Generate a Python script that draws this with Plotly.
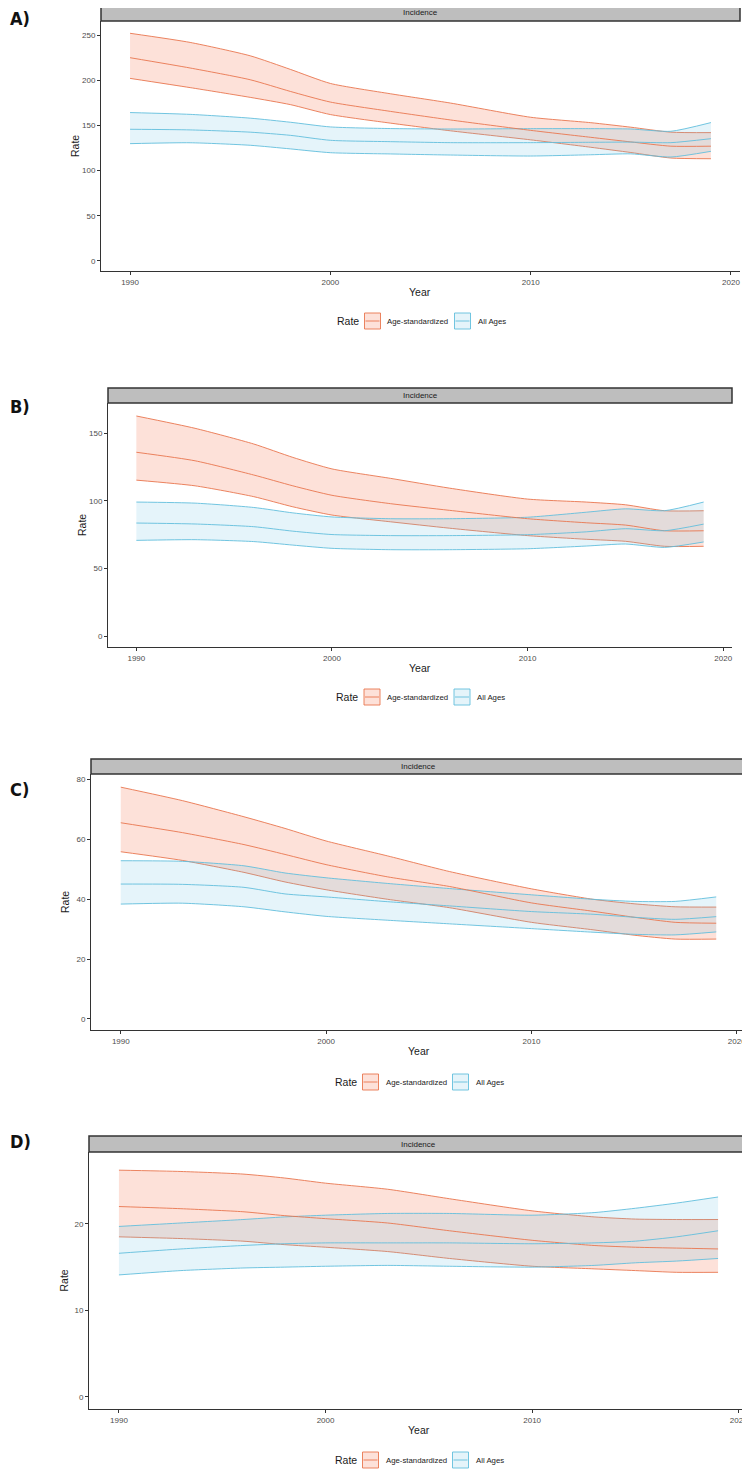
import plotly.graph_objects as go

# years (key points along each smooth line)
years = [1990, 1993, 1996, 1998, 2000, 2003, 2006, 2010, 2013, 2015, 2017, 2019]

# A) incidence rates
a_asr_hi = [251.9, 241.8, 227.0, 212.0, 196.4, 185.0, 174.7, 159.0, 153.0, 148.0, 142.5, 142.0]
a_asr = [224.9, 213.5, 200.5, 187.6, 175.8, 165.5, 156.0, 144.5, 136.8, 131.7, 127.0, 127.0]
a_asr_lo = [202.0, 191.8, 181.0, 173.0, 162.0, 152.5, 144.0, 134.0, 125.8, 120.0, 113.9, 113.1]
a_all_hi = [164.2, 162.2, 158.0, 153.5, 148.3, 146.5, 146.0, 146.4, 146.4, 146.0, 143.5, 153.1]
a_all = [145.7, 145.0, 142.5, 139.0, 133.5, 132.0, 130.9, 130.9, 131.3, 131.5, 130.9, 135.3]
a_all_lo = [129.8, 130.8, 128.0, 124.0, 119.8, 118.4, 117.2, 116.1, 117.5, 118.5, 115.0, 121.3]

# B)
b_asr_hi = [162.6, 153.5, 141.9, 132.0, 123.5, 116.5, 109.3, 101.2, 99.0, 97.0, 92.6, 92.6]
b_asr = [135.8, 129.5, 119.0, 111.0, 104.0, 97.8, 92.9, 86.7, 83.7, 82.0, 77.8, 77.8]
b_asr_lo = [115.2, 111.0, 103.0, 95.5, 89.4, 84.4, 79.7, 74.2, 71.5, 70.0, 66.3, 66.3]
b_all_hi = [99.0, 98.2, 95.0, 91.0, 88.0, 86.7, 86.7, 87.8, 91.5, 94.0, 92.6, 99.0]
b_all = [83.5, 82.8, 80.8, 77.5, 75.0, 74.2, 74.2, 74.9, 77.0, 79.3, 77.8, 82.7]
b_all_lo = [70.7, 71.2, 69.8, 67.2, 64.8, 63.8, 63.8, 64.5, 66.5, 68.0, 65.5, 69.5]

# C)
c_asr_hi = [77.5, 73.0, 67.6, 63.7, 59.5, 54.5, 49.3, 43.5, 40.0, 38.5, 37.5, 37.4]
c_asr = [65.6, 62.3, 58.3, 55.0, 51.6, 47.5, 44.3, 38.8, 36.0, 34.0, 32.3, 32.0]
c_asr_lo = [55.9, 53.0, 49.0, 45.8, 43.2, 40.0, 37.2, 32.3, 29.8, 28.0, 26.7, 26.7]
c_all_hi = [52.9, 52.7, 51.2, 48.8, 47.2, 45.3, 43.6, 41.5, 40.0, 39.3, 39.3, 40.8]
c_all = [45.1, 45.0, 44.0, 41.8, 40.8, 39.2, 37.8, 35.9, 35.0, 34.0, 33.3, 34.2]
c_all_lo = [38.4, 38.7, 37.5, 35.8, 34.3, 33.0, 31.8, 30.2, 29.0, 28.3, 28.1, 29.1]

# D)
d_asr_hi = [26.2, 26.05, 25.75, 25.3, 24.7, 24.0, 22.9, 21.5, 20.8, 20.55, 20.5, 20.5]
d_asr = [22.0, 21.75, 21.4, 20.95, 20.6, 20.1, 19.2, 18.1, 17.5, 17.3, 17.2, 17.1]
d_asr_lo = [18.5, 18.3, 18.0, 17.6, 17.3, 16.8, 16.0, 15.1, 14.8, 14.6, 14.4, 14.4]
d_all_hi = [19.7, 20.1, 20.5, 20.8, 21.0, 21.2, 21.2, 21.0, 21.3, 21.8, 22.4, 23.1]
d_all = [16.6, 17.1, 17.5, 17.7, 17.8, 17.8, 17.8, 17.7, 17.8, 18.0, 18.5, 19.2]
d_all_lo = [14.1, 14.6, 14.9, 15.0, 15.1, 15.2, 15.1, 15.0, 15.2, 15.5, 15.7, 16.0]

x_ticks = [1990, 2000, 2010, 2020]
series_names = ["Age-standardized", "All Ages"]

# the page body has an 8px margin, so the figure is shrunk by that much
PAGE_W, PAGE_H, OFF = 750, 1469, 8
W, H = PAGE_W - OFF, PAGE_H - OFF
ORANGE = "#E9764F"
BLUE = "#62BEDC"
ORANGE_FILL = "rgba(248,118,80,0.22)"
BLUE_FILL = "rgba(100,190,225,0.17)"
FONT = "Liberation Sans, Arial, sans-serif"
TXT = "#1a1a1a"


def fx(p):
    return min(1.0, max(0.0, (p - OFF) / W))


def fy(p):
    return 1 - (p - OFF) / H


# pixel boxes on the page: (left, right, top, bottom), strip top, y range, y ticks, tag y, legend y
panels = [
    dict(tag="A)", box=(101, 740, 21, 271), strip=5, yrange=[-11.1, 265.5],
         yticks=[0, 50, 100, 150, 200, 250], tag_y=18, leg_y=321,
         data=(a_asr_hi, a_asr, a_asr_lo, a_all_hi, a_all, a_all_lo)),
    dict(tag="B)", box=(108, 732, 403, 647), strip=388, yrange=[-8.1, 172.2],
         yticks=[0, 50, 100, 150], tag_y=406, leg_y=697,
         data=(b_asr_hi, b_asr, b_asr_lo, b_all_hi, b_all, b_all_lo)),
    dict(tag="C)", box=(91, 746, 774, 1030), strip=759, yrange=[-3.7, 81.9],
         yticks=[0, 20, 40, 60, 80], tag_y=789, leg_y=1082,
         data=(c_asr_hi, c_asr, c_asr_lo, c_all_hi, c_all, c_all_lo)),
    dict(tag="D)", box=(89, 748, 1152, 1409), strip=1136, yrange=[-1.39, 28.3],
         yticks=[0, 10, 20], tag_y=1141, leg_y=1460,
         data=(d_asr_hi, d_asr, d_asr_lo, d_all_hi, d_all, d_all_lo)),
]

fig = go.Figure()
shapes = []
annotations = []
layout = {}


def note(text, x, y, size, xanchor="center", yanchor="middle", angle=0, family=FONT, color=TXT):
    annotations.append(dict(text=text, x=x, y=y, xref="paper", yref="paper",
                            xanchor=xanchor, yanchor=yanchor, textangle=angle,
                            showarrow=False, font=dict(family=family, size=size, color=color)))


for i, p in enumerate(panels):
    n = "" if i == 0 else str(i + 1)
    xa, ya = "x" + n, "y" + n
    left, right, top, bottom = p["box"]
    hi1, mid1, lo1, hi2, mid2, lo2 = p["data"]

    # ribbons with outlines, then the central lines
    for hi, lo, col, fill in [(hi1, lo1, ORANGE, ORANGE_FILL), (hi2, lo2, BLUE, BLUE_FILL)]:
        fig.add_trace(go.Scatter(x=years, y=hi, mode="lines", xaxis=xa, yaxis=ya,
                                 line=dict(color=col, width=0.9, shape="spline", smoothing=0.6),
                                 showlegend=False, hoverinfo="skip"))
        fig.add_trace(go.Scatter(x=years, y=lo, mode="lines", xaxis=xa, yaxis=ya,
                                 fill="tonexty", fillcolor=fill,
                                 line=dict(color=col, width=0.9, shape="spline", smoothing=0.6),
                                 showlegend=False, hoverinfo="skip"))
    for mid, col in [(mid1, ORANGE), (mid2, BLUE)]:
        fig.add_trace(go.Scatter(x=years, y=mid, mode="lines", xaxis=xa, yaxis=ya,
                                 line=dict(color=col, width=0.9, shape="spline", smoothing=0.6),
                                 showlegend=False))

    axis_common = dict(showline=True, linecolor="#333333", linewidth=1, ticks="outside",
                       ticklen=3, tickwidth=1, tickcolor="#333333", showgrid=False,
                       zeroline=False, tickfont=dict(family=FONT, size=8, color="#4D4D4D"))
    layout["xaxis" + n] = dict(axis_common, domain=[fx(left), fx(right)], anchor=ya,
                               range=[1988.55, 2020.45], tickvals=x_ticks)
    layout["yaxis" + n] = dict(axis_common, domain=[fy(bottom), fy(top)], anchor=xa,
                               range=p["yrange"], tickvals=p["yticks"])

    # facet strip
    shapes.append(dict(type="rect", xref="paper", yref="paper",
                       x0=fx(left), x1=fx(right), y0=fy(top), y1=fy(p["strip"]),
                       fillcolor="#BEBEBE", line=dict(color="#333333", width=1.5)))
    cx = (left + right) / 2
    note("Incidence", fx(cx), fy((top + p["strip"]) / 2), 8)
    # axis titles
    note("Year", fx(cx), fy(bottom + 21), 10.5)
    note("Rate", fx(left - 26), fy((top + bottom) / 2), 10.5, angle=-90)
    # panel tag
    note("<b>" + p["tag"] + "</b>", 0, fy(p["tag_y"]), 18, xanchor="left",
         family="Liberation Sans Narrow, DejaVu Sans Condensed, Liberation Sans", color="#111111")

    # legend below each panel
    ly = p["leg_y"]
    note("Rate", fx(cx - 86), fy(ly), 10.5, xanchor="left")
    for k0, name, col, fill in [(cx - 56, series_names[0], ORANGE, ORANGE_FILL),
                                (cx + 34, series_names[1], BLUE, BLUE_FILL)]:
        shapes.append(dict(type="rect", xref="paper", yref="paper",
                           x0=fx(k0), x1=fx(k0 + 16), y0=fy(ly + 8), y1=fy(ly - 8),
                           fillcolor=fill, line=dict(color=col, width=0.9)))
        shapes.append(dict(type="line", xref="paper", yref="paper",
                           x0=fx(k0 + 1), x1=fx(k0 + 15), y0=fy(ly), y1=fy(ly),
                           line=dict(color=col, width=0.9)))
        note(name, fx(k0 + 21), fy(ly), 7.8, xanchor="left")

fig.update_layout(
    width=W, height=H,
    margin=dict(l=0, r=0, t=0, b=0),
    paper_bgcolor="white", plot_bgcolor="white",
    showlegend=False,
    shapes=shapes, annotations=annotations,
    **layout
)

fig.write_html("out.html")
